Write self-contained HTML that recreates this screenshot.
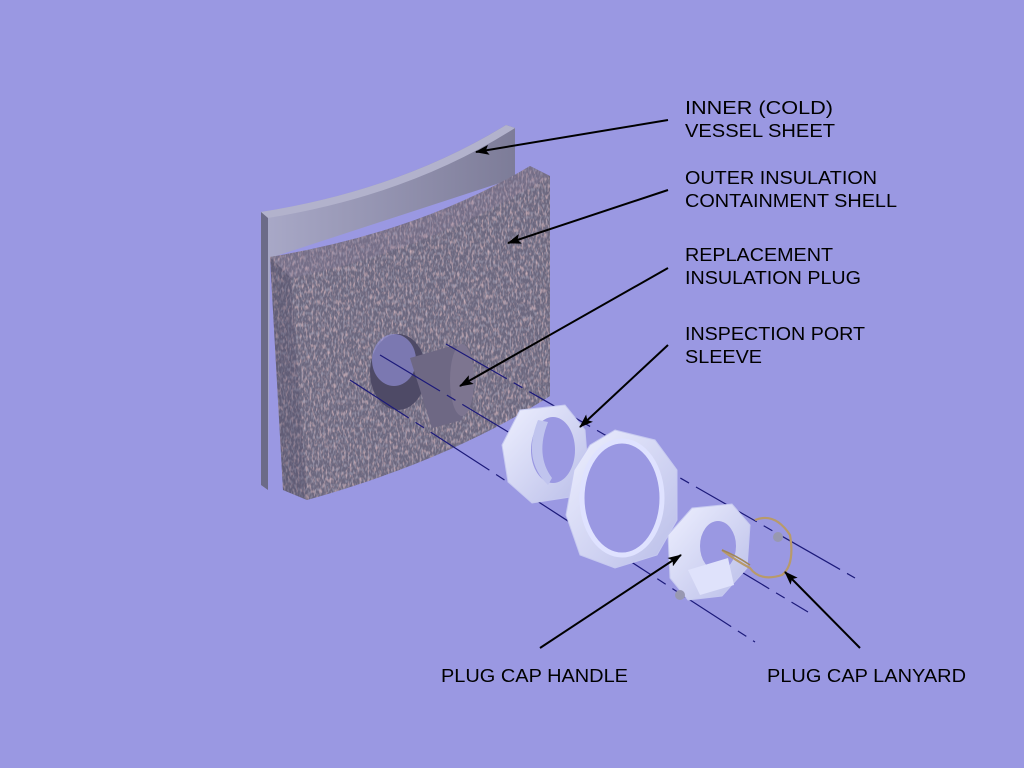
<!DOCTYPE html>
<html><head><meta charset="utf-8"><style>
html,body{margin:0;padding:0;background:#9a98e2;}
svg{display:block}
text{font-family:"Liberation Sans",sans-serif;font-size:18px;fill:#000}
</style></head><body>
<svg width="1024" height="768" viewBox="0 0 1024 768" xmlns="http://www.w3.org/2000/svg">
<defs>
<linearGradient id="sheet" x1="0" y1="0" x2="1" y2="0"><stop offset="0" stop-color="#a9a9c8"/><stop offset="1" stop-color="#7d7c98"/></linearGradient>
<marker id="ah" markerWidth="14" markerHeight="10" refX="13" refY="5" orient="auto" markerUnits="userSpaceOnUse"><path d="M0,0 L14,5 L0,10 L3,5 z" fill="#000"/></marker>
<filter id="tex" x="0" y="0" width="1" height="1">
<feTurbulence type="fractalNoise" baseFrequency="0.5 0.18" numOctaves="2" seed="3" result="n"/>
<feColorMatrix in="n" type="matrix" values="0 0 0 0 0.62  0 0 0 0 0.45  0 0 0 0 0.5  2.5 0 0 0 -1.25" result="c"/>
<feComposite in="c" in2="SourceGraphic" operator="in" result="ci"/>
<feTurbulence type="fractalNoise" baseFrequency="0.6 0.25" numOctaves="1" seed="9" result="n2"/>
<feColorMatrix in="n2" type="matrix" values="0 0 0 0 0.35  0 0 0 0 0.34  0 0 0 0 0.45  2.5 0 0 0 -1.2" result="c2"/>
<feComposite in="c2" in2="SourceGraphic" operator="in" result="ci2"/>
<feMerge><feMergeNode in="SourceGraphic"/><feMergeNode in="ci"/><feMergeNode in="ci2"/></feMerge>
</filter>
<linearGradient id="ring" x1="0" y1="0" x2="1" y2="1"><stop offset="0" stop-color="#eef0ff"/><stop offset="1" stop-color="#b9bde8"/></linearGradient>
</defs>
<!-- gray sheet -->
<path d="M261,212 Q400,190 506,125 L515,128 L515,178 L270,258 L268,490 L261,485 Z" fill="url(#sheet)"/>
<path d="M261,212 Q400,190 506,125 L515,128 Q410,195 268,218 Z" fill="#b2b2cc"/>
<path d="M261,212 L268,218 L268,490 L261,485 Z" fill="#6c6b88"/>
<!-- insulation -->
<g filter="url(#tex)">
<path d="M270,257 Q420,232 530,166 L550,176 L550,396 Q450,460 307,500 L283,490 Z" fill="#6c687f"/>
</g>
<path d="M270,257 L291,278 L307,500 L283,490 Z" fill="#4a4662" opacity="0.3"/>
<path d="M270,257 Q420,232 530,166 L550,176 Q430,250 291,278 Z" fill="#8a7f9a" opacity="0.3"/>
<!-- hole + plug -->
<ellipse cx="398" cy="372" rx="28" ry="38" fill="#4e4a66"/>
<ellipse cx="394" cy="360" rx="22" ry="26" fill="#9a98e2" opacity="0.6"/>
<path d="M410,358 L455,345 Q475,365 462,420 L432,428 Z" fill="#6e6884"/>
<ellipse cx="462" cy="380" rx="12" ry="36" fill="#7d7590"/>
<!-- dashed axis lines -->
<g stroke="#1c1a7a" stroke-width="1.2" fill="none" stroke-dasharray="70,8,10,8">
<line x1="446" y1="344" x2="855" y2="578"/>
<line x1="380" y1="355" x2="808" y2="612"/>
<line x1="350" y1="380" x2="755" y2="642"/>
</g>
<!-- ring 1 -->
<path d="M520,410 L565,405 L585,430 L588,470 L570,497 L532,503 L508,482 L502,445 Z" fill="url(#ring)" stroke="#c6c9f0"/>
<ellipse cx="553" cy="450" rx="22" ry="33" fill="#9a98e2"/>
<path d="M538,420 Q522,460 548,485 L552,478 Q535,455 548,422 Z" fill="#c0c4ee"/>
<!-- ring 2 -->
<path d="M615,430 L655,440 L677,470 L677,520 L657,555 L615,568 L580,555 L566,515 L574,470 L590,445 Z" fill="url(#ring)" stroke="#c6c9f0"/>
<ellipse cx="622" cy="498" rx="40" ry="57" fill="#9a98e2"/>
<ellipse cx="622" cy="498" rx="40" ry="57" fill="none" stroke="#dfe2ff" stroke-width="5"/>
<!-- ring 3 -->
<path d="M692,508 L732,504 L750,525 L747,568 L722,596 L688,600 L670,578 L668,535 Z" fill="url(#ring)" stroke="#c6c9f0"/>
<ellipse cx="718" cy="546" rx="18" ry="25" fill="#9a98e2"/>
<path d="M688,570 L728,558 L734,585 L700,595 Z" fill="#dfe2fb"/>
<!-- pegs -->
<ellipse cx="680" cy="595" rx="5" ry="5" fill="#9898b0"/>
<ellipse cx="778" cy="537" rx="5" ry="5" fill="#9898b0"/>
<!-- lanyard -->
<path d="M755,520 Q775,512 790,535 Q795,565 782,575 Q760,582 750,568 Q735,560 722,550" fill="none" stroke="#b89a6a" stroke-width="2.2"/>
<path d="M722,550 Q735,555 750,565" fill="none" stroke="#a08658" stroke-width="1.5"/>
<!-- arrows -->
<g stroke="#000" stroke-width="2" marker-end="url(#ah)">
<line x1="668" y1="120" x2="476" y2="152"/>
<line x1="668" y1="190" x2="508" y2="243"/>
<line x1="668" y1="268" x2="460" y2="386"/>
<line x1="668" y1="345" x2="580" y2="427"/>
<line x1="540" y1="648" x2="681" y2="555"/>
<line x1="860" y1="648" x2="785" y2="572"/>
</g>
<!-- labels -->
<text x="685" y="114" textLength="148" lengthAdjust="spacingAndGlyphs">INNER (COLD)</text>
<text x="685" y="137" textLength="150" lengthAdjust="spacingAndGlyphs">VESSEL SHEET</text>
<text x="685" y="184" textLength="192" lengthAdjust="spacingAndGlyphs">OUTER INSULATION</text>
<text x="685" y="207" textLength="212" lengthAdjust="spacingAndGlyphs">CONTAINMENT SHELL</text>
<text x="685" y="261" textLength="148" lengthAdjust="spacingAndGlyphs">REPLACEMENT</text>
<text x="685" y="284" textLength="176" lengthAdjust="spacingAndGlyphs">INSULATION PLUG</text>
<text x="685" y="340" textLength="180" lengthAdjust="spacingAndGlyphs">INSPECTION PORT</text>
<text x="685" y="363" textLength="77" lengthAdjust="spacingAndGlyphs">SLEEVE</text>
<text x="441" y="682" textLength="187" lengthAdjust="spacingAndGlyphs">PLUG CAP HANDLE</text>
<text x="767" y="682" textLength="199" lengthAdjust="spacingAndGlyphs">PLUG CAP LANYARD</text>
</svg>
</body></html>
